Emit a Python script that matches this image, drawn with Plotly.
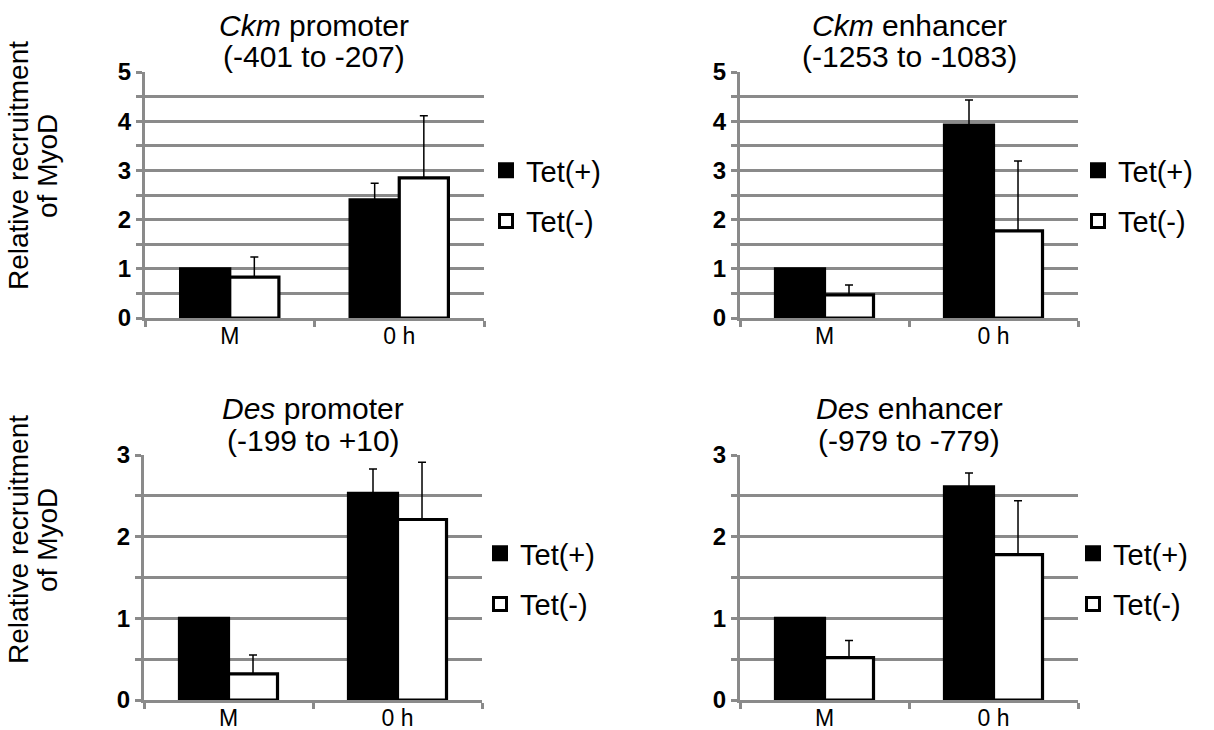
import plotly.graph_objects as go

W, H = 1214, 730
FONT = "Liberation Sans"
GRID = "#8a8a8a"

categories = ["M", "0 h"]
series_names = ["Tet(+)", "Tet(-)"]
series_fill = ["black", "white"]

# Panel titles (two lines each)
title_line1 = ["<i>Ckm</i> promoter", "<i>Ckm</i> enhancer", "<i>Des</i> promoter", "<i>Des</i> enhancer"]
title_line2 = ["(-401 to -207)", "(-1253 to -1083)", "(-199 to +10)", "(-979 to -779)"]
ylabel_lines = ["Relative recruitment", "of MyoD"]

# Values (Tet(+), Tet(-)) per panel, and upper error bars
ckm_prom_pos = [1.0, 2.40]
ckm_prom_pos_err = [None, 0.34]
ckm_prom_neg = [0.83, 2.85]
ckm_prom_neg_err = [0.41, 1.26]

ckm_enh_pos = [1.0, 3.92]
ckm_enh_pos_err = [None, 0.51]
ckm_enh_neg = [0.47, 1.77]
ckm_enh_neg_err = [0.20, 1.42]

des_prom_pos = [1.0, 2.53]
des_prom_pos_err = [None, 0.30]
des_prom_neg = [0.32, 2.21]
des_prom_neg_err = [0.23, 0.70]

des_enh_pos = [1.0, 2.61]
des_enh_pos_err = [None, 0.17]
des_enh_neg = [0.52, 1.78]
des_enh_neg_err = [0.21, 0.66]

y_max = [5, 5, 3, 3]

panels = [
    (ckm_prom_pos, ckm_prom_pos_err, ckm_prom_neg, ckm_prom_neg_err),
    (ckm_enh_pos, ckm_enh_pos_err, ckm_enh_neg, ckm_enh_neg_err),
    (des_prom_pos, des_prom_pos_err, des_prom_neg, des_prom_neg_err),
    (des_enh_pos, des_enh_pos_err, des_enh_neg, des_enh_neg_err),
]

# pixel geometry (left, right, top, bottom) of each plot area
boxes = [
    (145, 484, 72, 318),
    (740, 1078, 72, 318),
    (144, 482, 455, 700),
    (740, 1078, 455, 700),
]
legend_pos = [(486, 145), (1078, 145), (480, 528), (1073, 528)]
title_pos = [(314, 25, 57), (909, 25, 57), (313, 408, 440), (909, 408, 440)]
ylabel_pos = [166, 540]

def px(x):
    return x / W

def py(y):
    return 1 - y / H

fig = go.Figure()
layout = {}
annotations = []

for i, (pos, pos_err, neg, neg_err) in enumerate(panels):
    n = "" if i == 0 else str(i + 1)
    leg = "legend" + n
    xa = "x" + n
    ya = "y" + n
    for vals, errs, fill in ((pos, pos_err, series_fill[0]), (neg, neg_err, series_fill[1])):
        fig.add_trace(go.Bar(
            x=categories, y=vals, xaxis=xa, yaxis=ya, showlegend=False,
            marker=dict(color=fill, line=dict(color="black", width=3.2)),
            error_y=dict(type="data", array=errs, arrayminus=[0, 0], symmetric=False,
                         color="black", thickness=1.5, width=4),
        ))
    # legend entries (no visible data)
    for k, (name, fill) in enumerate(zip(series_names, series_fill)):
        fig.add_trace(go.Scatter(
            x=[None], y=[None], mode="markers", name=name, xaxis=xa, yaxis=ya,
            legend=leg, legendgroup=str(k), hoverinfo="skip",
            marker=dict(symbol="square", size=13, color=fill,
                        line=dict(color="black", width=3)),
        ))
    l, r, t, b = boxes[i]
    layout["xaxis" + n] = dict(
        domain=[px(l), px(r)], anchor=ya, showline=True, linecolor=GRID, linewidth=3,
        ticks="outside", tickson="boundaries", ticklen=6, tickwidth=3, tickcolor=GRID,
        showgrid=False, tickfont=dict(family=FONT, size=23, color="black"),
        ticklabelstandoff=-5,
        fixedrange=True, automargin=False,
    )
    layout["yaxis" + n] = dict(
        domain=[py(b), py(t)], anchor=xa, range=[0, y_max[i]], dtick=1,
        showline=True, linecolor=GRID, linewidth=3,
        ticks="outside", ticklen=6, tickwidth=3, tickcolor=GRID,
        showgrid=True, gridcolor=GRID, gridwidth=3, zeroline=False,
        minor=dict(dtick=0.5, showgrid=True, gridcolor=GRID, gridwidth=3,
                   ticks="outside", ticklen=6, tickwidth=3, tickcolor=GRID),
        tickfont=dict(family=FONT, size=24, color="black", weight="bold"),
        fixedrange=True, automargin=False,
    )
    lx, ly = legend_pos[i]
    layout[leg] = dict(
        x=px(lx), y=py(ly), xanchor="left", yanchor="top",
        font=dict(family=FONT, size=29, color="black"),
        bgcolor="rgba(0,0,0,0)", tracegroupgap=10, itemsizing="trace",
    )
    tx, ty1, ty2 = title_pos[i]
    for txt, ty in ((title_line1[i], ty1), (title_line2[i], ty2)):
        annotations.append(dict(
            text=txt, x=px(tx), y=py(ty), xref="paper", yref="paper",
            xanchor="center", yanchor="middle", showarrow=False,
            font=dict(family=FONT, size=30, color="black"),
        ))

for yc in ylabel_pos:
    for txt, xc in zip(ylabel_lines, [18, 47]):
        annotations.append(dict(
            text=txt, x=px(xc), y=py(yc),
            xref="paper", yref="paper", xanchor="center", yanchor="middle",
            showarrow=False, textangle=-90,
            font=dict(family=FONT, size=28, color="black"),
        ))

fig.update_layout(
    width=W, height=H, margin=dict(l=0, r=0, t=0, b=0, autoexpand=False),
    paper_bgcolor="white", plot_bgcolor="white",
    barmode="group", bargap=0.42, bargroupgap=0,
    annotations=annotations, showlegend=True,
    **layout,
)

fig.write_html("out.html")
